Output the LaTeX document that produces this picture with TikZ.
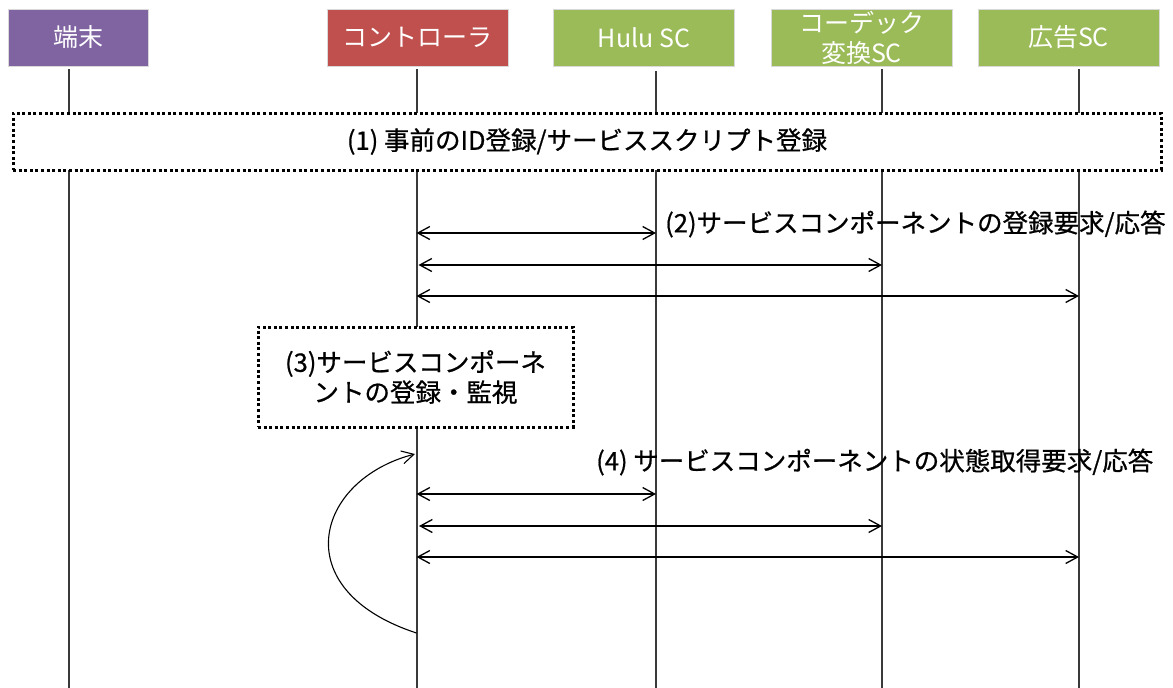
\documentclass[tikz,border=0pt]{standalone}
\usepackage{fontspec}
\setmainfont{Noto Sans CJK JP}
\newfontfamily\jpm[FakeBold=0.7]{Noto Sans CJK JP}
\usetikzlibrary{arrows.meta}
\definecolor{termc}{HTML}{8064A2}
\definecolor{ctrlc}{HTML}{C0504D}
\definecolor{scc}{HTML}{9BBB59}
\definecolor{lifec}{HTML}{3A3A3A}
\begin{document}
\begin{tikzpicture}[x=1pt,y=-1pt,
 hdr/.style={minimum width=181pt,minimum height=57pt,inner sep=0pt,text=white,
   font=\fontsize{25}{30}\selectfont,align=center,draw=white!85!black,line width=0.6pt},
 life/.style={draw=lifec,line width=2pt},
 tip/.tip={Straight Barb[length=12pt,width=13pt]},
 msg/.style={tip-tip,line width=1.3pt},
 dotbox/.style={draw=black,fill=white,line width=3pt,dash pattern=on 3pt off 2.6pt,
   inner sep=0pt,align=center,font=\jpm\fontsize{25.5}{30}\selectfont},
 lbl/.style={font=\jpm\fontsize{25.5}{30}\selectfont,inner sep=0pt}]
\useasboundingbox (0,0) rectangle (1173,688);
% headers
\node[hdr,fill=termc,minimum width=140pt] (term) at (78,37.5) {端末};
\node[hdr,fill=ctrlc] (ctrl) at (417.5,37.5) {コントローラ};
\node[hdr,fill=scc] (hulu) at (644,37.5) {Hulu SC};
\node[hdr,fill=scc] (codec) at (861.5,37.5) {コーデック\\変換SC};
\node[hdr,fill=scc] (ad) at (1068.5,37.5) {広告SC};
% lifeline end points
\coordinate (tT) at (69,69);   \coordinate (tB) at (69,688);
\coordinate (cT) at (416.5,69); \coordinate (cB) at (416.5,688);
\coordinate (hT) at (656,71);  \coordinate (hB) at (656,688);
\coordinate (kT) at (882,69);  \coordinate (kB) at (882,688);
\coordinate (aT) at (1079,69); \coordinate (aB) at (1079,688);
\draw[life] (tT) -- (tB);
\draw[life] (cT) -- (cB);
\draw[life,line width=1.5pt] (hT) -- (hB);
\draw[life] (kT) -- (kB);
\draw[life] (aT) -- (aB);
% boxes
\node[dotbox,minimum width=1148pt,minimum height=57pt] (reg) at (587,141.5)
  {(1) 事前のID登録/サービススクリプト登録};
\node[dotbox,minimum width=315pt,minimum height=100pt] (mon) at (415.5,377)
  {(3)サービスコンポーネ\\ントの登録・監視};
% (2) arrows
\coordinate (c21) at (416.5,233); \coordinate (h21) at (656,233);
\coordinate (c22) at (418.5,265); \coordinate (k22) at (882,265);
\coordinate (c23) at (416.5,296); \coordinate (a23) at (1079,296);
\draw[msg] (c21) -- (h21);
\draw[msg] (c22) -- (k22);
\draw[msg] (c23) -- (a23);
\node[lbl,anchor=west] (l2) at (665,224) {(2)サービスコンポーネントの登録要求/応答};
% (4) arrows
\coordinate (c41) at (416.5,494); \coordinate (h41) at (656,494);
\coordinate (c42) at (419,526); \coordinate (k42) at (882,526);
\coordinate (c43) at (416.5,557); \coordinate (a43) at (1079,557);
\draw[msg] (c41) -- (h41);
\draw[msg] (c42) -- (k42);
\draw[msg] (c43) -- (a43);
\node[lbl,anchor=west] (l4) at (596,462) {(4) サービスコンポーネントの状態取得要求/応答};
% self loop
\coordinate (lb) at (416.5,633);
\coordinate (lt) at (415,454);
\draw[-tip,line width=1.1pt] (lb) .. controls (285,590) and (315,480) .. (lt);
\end{tikzpicture}
\end{document}
